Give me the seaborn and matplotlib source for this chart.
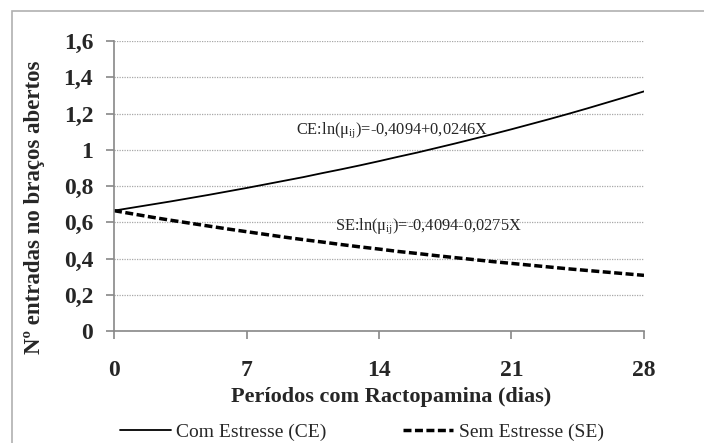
import numpy as np
import pandas as pd
import matplotlib
matplotlib.use("Agg")
import matplotlib.pyplot as plt
import seaborn as sns
from matplotlib.lines import Line2D

dias = list(range(0, 29))
ce_vals = [0.664, 0.681, 0.698, 0.715, 0.733, 0.751, 0.770, 0.789, 0.809, 0.829,
           0.849, 0.871, 0.892, 0.914, 0.937, 0.961, 0.984, 1.009, 1.034, 1.060,
           1.086, 1.113, 1.141, 1.169, 1.198, 1.228, 1.259, 1.290, 1.322]
se_vals = [0.664, 0.646, 0.628, 0.611, 0.595, 0.579, 0.563, 0.548, 0.533, 0.518,
           0.504, 0.491, 0.477, 0.464, 0.452, 0.439, 0.428, 0.416, 0.405, 0.394,
           0.383, 0.373, 0.363, 0.353, 0.343, 0.334, 0.325, 0.316, 0.307]
series_names = ["Com Estresse (CE)", "Sem Estresse (SE)"]
x_ticks = [0, 7, 14, 21, 28]
y_ticks = [0, 0.2, 0.4, 0.6, 0.8, 1.0, 1.2, 1.4, 1.6]
y_labels = ["0", "0,2", "0,4", "0,6", "0,8", "1", "1,2", "1,4", "1,6"]
eq_ce = r"CE:ln(μ$_{\mathrm{ij}}$)=-0,4094+0,0246X"
eq_se = r"SE:ln(μ$_{\mathrm{ij}}$)=-0,4094-0,0275X"

df = pd.DataFrame({
    "dias": dias * 2,
    "valor": ce_vals + se_vals,
    "serie": [series_names[0]] * len(dias) + [series_names[1]] * len(dias),
})

sns.set_style("white")
plt.rcParams["font.family"] = ["Liberation Serif", "DejaVu Serif"]
plt.rcParams["mathtext.fontset"] = "custom"
plt.rcParams["mathtext.rm"] = "Liberation Serif"
plt.rcParams["mathtext.it"] = "Liberation Serif:italic"

fig = plt.figure(figsize=(7.04, 4.43), dpi=100)
ax = fig.add_axes([114 / 704, 1 - 331 / 443, 530 / 704, 290 / 443])

dash_se = (2.3, 1.0)
sns.lineplot(data=df, x="dias", y="valor", hue="serie", style="serie",
             palette=["black", "black"],
             dashes={series_names[0]: "", series_names[1]: dash_se},
             ax=ax, legend=False)
ax.lines[0].set_linewidth(1.3)
ax.lines[1].set_linewidth(2.5)

ax.set_xlim(0, 28)
ax.set_ylim(0, 1.6)
ax.set_xticks(x_ticks)
ax.set_xticklabels([str(t) for t in x_ticks], fontsize=17, fontweight="bold")
ax.set_yticks(y_ticks)
ax.set_yticklabels(y_labels, fontsize=17, fontweight="bold")
ax.yaxis.grid(True, color="#a8a8a8", linestyle=(0, (1, 1)), linewidth=0.9)
ax.xaxis.grid(False)
for s in ["top", "right"]:
    ax.spines[s].set_visible(False)
for s in ["left", "bottom"]:
    ax.spines[s].set_color("#888888")
    ax.spines[s].set_linewidth(1.2)
ax.tick_params(axis="both", which="both", direction="out", length=6, width=1.2,
               color="#888888", bottom=True, left=True)
ax.tick_params(axis="x", pad=15)
ax.tick_params(axis="y", pad=9)

ax.set_xlabel("Períodos com Ractopamina (dias)", fontsize=16, fontweight="bold")
ax.xaxis.set_label_coords((391 - 114) / 530, -(397 - 331) / 290)
ax.set_ylabel("Nº entradas no braços abertos", fontsize=16.5, fontweight="bold")
ax.yaxis.set_label_coords(-(114 - 35) / 530, (331 - 207) / 290)
ax.xaxis.label.set_va("center")
ax.yaxis.label.set_va("center")

ax.text(9.6, 1.11, eq_ce, fontsize=11.8, ha="left", va="center")
ax.text(11.67, 0.58, eq_se, fontsize=11.8, ha="left", va="center")

handles = [Line2D([], [], color="black", lw=1.3),
           Line2D([], [], color="black", lw=2.5, linestyle=(0, dash_se))]
fig.legend(handles, series_names, loc="center", bbox_to_anchor=(362 / 704, 1 - 432 / 443),
           ncol=2, frameon=False, fontsize=14, handlelength=2.6, columnspacing=3.9,
           handletextpad=0.3, borderpad=0, borderaxespad=0)

border = plt.Rectangle((11.5 / 704, -0.1), 1.0, 1.1 - 11.5 / 443, transform=fig.transFigure,
                       fill=False, edgecolor="#b0b0b0", linewidth=1.2)
fig.patches.append(border)

fig.savefig("out.png", dpi=100, facecolor="white")
